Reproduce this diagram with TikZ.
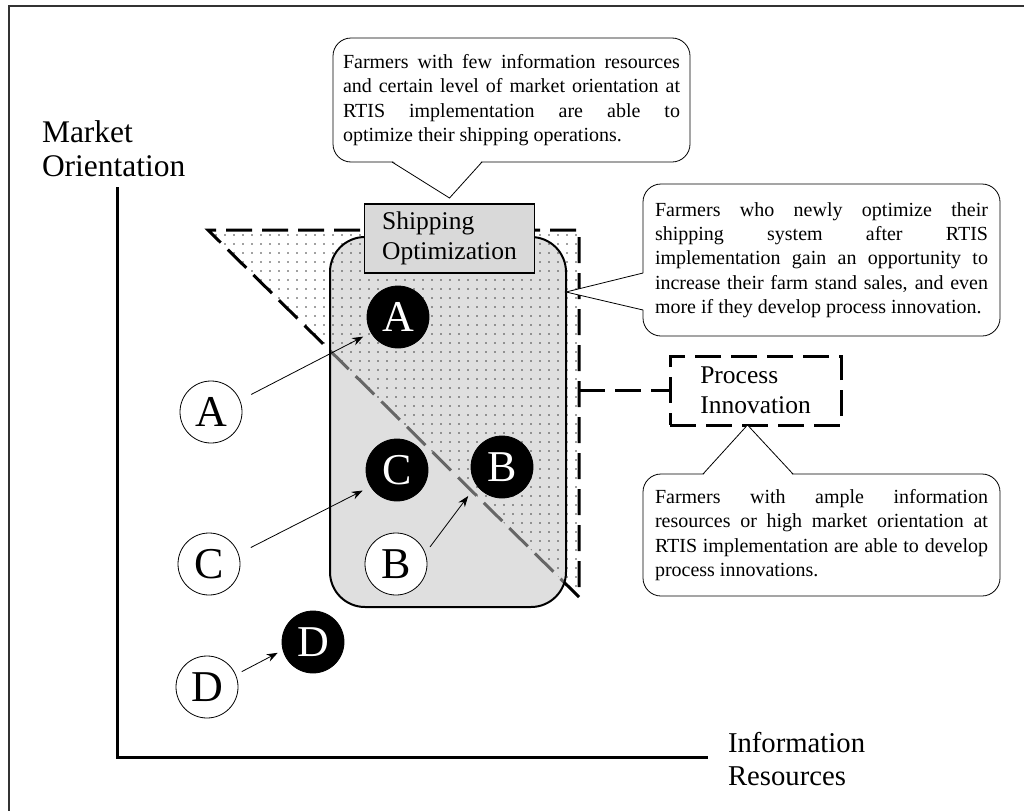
\documentclass[tikz,border=0pt]{standalone}
\usepackage{fontspec}
\setmainfont{Liberation Serif}
\usetikzlibrary{arrows.meta,patterns.meta}
\hyphenpenalty=10000
\tolerance=10000

\begin{document}
\begin{tikzpicture}[x=1pt,y=-1pt,inner sep=0pt,outer sep=0pt,
firm/.style={draw,circle,line width=0.8pt,fill=white,minimum size=62pt,font=\fontsize{44}{44}\selectfont},
firmdone/.style={firm,fill=black,text=white},
firmmove/.style={-{Stealth[length=11pt,width=8pt]},line width=0.8pt},
note/.style={draw,fill=white,line width=0.8pt,rounded corners=18pt,text width=#1,align=justify,inner xsep=10pt,
  font=\fontsize{20}{24.3}\selectfont},
stagebox/.style={draw,rectangle,line width=1.5pt,minimum width=170pt,minimum height=69pt,align=left,font=\fontsize{25.5}{30}\selectfont},
dashline/.style={line width=3pt,dash pattern=on 26pt off 10pt},
dotfill/.style={pattern={Dots[distance=9pt,radius=0.85pt]},pattern color=black!75},
axislabel/.style={anchor=north west,align=left}]

\useasboundingbox (0,0) rectangle (1024,811);
\draw[black!80,line width=1.5pt] (1024,6) -- (9,6) -- (9,811);

\draw[line width=3pt] (117,187) -- (117,757) -- (708,757);
\node[axislabel,font=\fontsize{31.5}{34}\selectfont] (yLab) at (42,120.5) {Market\\Orientation};
\node[axislabel,font=\fontsize{28.7}{33}\selectfont] (xLab) at (728,732.5) {Information\\Resources};

\coordinate (triNW) at (208,230);
\coordinate (triNE) at (579,230);
\coordinate (triSE) at (579,597);
\fill[dotfill] (triNW) -- (triNE) -- (triSE) -- cycle;
\draw[dashline] (triSE) -- (triNW) -- (triNE) -- (triSE);

\fill[gray!25,rounded corners=35pt] (330,237) rectangle (566,607);
\begin{scope}
\clip[rounded corners=35pt] (330,237) rectangle (566,607);
\fill[dotfill] (triNW) -- (triNE) -- (triSE) -- cycle;
\draw[dashline,black!60] (triSE) -- (triNW);
\end{scope}
\draw[line width=2pt,rounded corners=35pt] (330,237) rectangle (566,607);
\coordinate (regionE) at (566,292);

\node[stagebox,fill=gray!30] (shipBox) at (449.5,238.5) {Shipping\\Optimization};
\node[stagebox,dashline,fill=white,minimum width=171pt] (procBox) at (755.5,390.5) {Process\\Innovation};
\draw[dashline] (procBox.west -| triNE) -- (procBox.west);

\node[note=337pt,minimum height=124pt] (noteShip) at (511.5,100) {Farmers with few information resources\linebreak
  and certain level of market orientation at\linebreak RTIS implementation are able to\linebreak
  optimize their shipping operations.};
\fill[white] ([xshift=-119.5pt,yshift=1.5pt]noteShip.south) -- ([yshift=6pt]shipBox.north) -- ([xshift=-29.5pt,yshift=1.5pt]noteShip.south) -- cycle;
\draw[line width=0.8pt] ([xshift=-119.5pt]noteShip.south) -- ([yshift=6pt]shipBox.north) -- ([xshift=-29.5pt]noteShip.south);

\node[note=333pt,inner xsep=12pt,minimum height=152pt] (noteGain) at (821.5,260) {Farmers who newly optimize their\linebreak
  shipping system after RTIS\linebreak implementation gain an opportunity to\linebreak
  increase their farm stand sales, and even\linebreak more if they develop process innovation.};
\fill[white] ([xshift=1.5pt,yshift=-13pt]noteGain.west) -- (regionE) -- ([xshift=1.5pt,yshift=-50pt]noteGain.west) -- cycle;
\draw[line width=0.8pt] ([yshift=-13pt]noteGain.west) -- (regionE) -- ([yshift=-50pt]noteGain.west);

\node[note=333pt,inner xsep=12pt,minimum height=122pt] (noteProc) at (821.5,535) {Farmers with ample information\linebreak
  resources or high market orientation at\linebreak RTIS implementation are able to develop\linebreak
  process innovations.};
\fill[white] ([xshift=-118.5pt,yshift=-1.5pt]noteProc.north) -- ([xshift=-8pt]procBox.south) -- ([xshift=-28.5pt,yshift=-1.5pt]noteProc.north) -- cycle;
\draw[line width=0.8pt] ([xshift=-118.5pt]noteProc.north) -- ([xshift=-8pt]procBox.south) -- ([xshift=-28.5pt]noteProc.north);

\node[firm] (wA) at (211,412) {A};
\node[firm] (wC) at (209,564) {C};
\node[firm] (wB) at (396,564) {B};
\node[firm] (wD) at (207,687) {D};
\node[firmdone] (bA) at (398,317) {A};
\node[firmdone] (bC) at (397,470) {C};
\node[firmdone] (bB) at (502,467) {B};
\node[firmdone] (bD) at (313,642) {D};

\draw[firmmove,shorten <=13pt,shorten >=9pt] (wA.22) -- (bA.210);
\draw[firmmove,shorten <=14pt,shorten >=9pt] (wC.19) -- (bC.212);
\draw[firmmove,shorten <=8pt,shorten >=14pt] (wB.20) -- (bB.215);
\draw[firmmove,shorten <=7pt,shorten >=6pt] (wD.23) -- (bD.195);
\end{tikzpicture}
\end{document}
